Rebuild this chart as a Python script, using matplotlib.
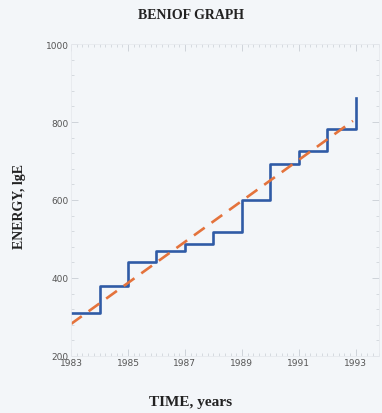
import matplotlib.pyplot as plt
import numpy as np
from matplotlib.ticker import MultipleLocator

# cumulative Benioff strain, one step per year
years = [1983, 1984, 1985, 1986, 1987, 1988, 1989, 1990, 1991, 1992, 1993]
energy = [310, 380, 440, 470, 488, 518, 600, 692, 726, 781, 862]

# linear trend
fit_years = [1983, 1992.9]
fit_energy = [282, 803]

bg = '#f3f6f9'
tick_col = '#c9ced4'

fig = plt.figure(figsize=(3.82, 4.14), dpi=100, facecolor=bg)
ax = fig.add_axes([0.186, 0.138, 0.805, 0.753], facecolor=bg)

ax.plot(years, energy, drawstyle='steps-post', color='#2f5ba6', linewidth=1.9)
ax.plot(fit_years, fit_energy, '--', color='#e4733c', linewidth=1.9, dashes=(5, 3.2))

ax.set_xlim(1983, 1993.8)
ax.set_ylim(200, 1000)
ax.set_xticks(np.arange(1983, 1994, 2))
ax.set_yticks([200, 400, 600, 800, 1000])
ax.xaxis.set_minor_locator(MultipleLocator(0.2))
ax.yaxis.set_minor_locator(MultipleLocator(40))

for s in ax.spines.values():
    s.set_color('#e6e9ee')
    s.set_linewidth(0.6)

ax.tick_params(which='both', direction='in', top=True, right=True, color=tick_col,
               labelsize=6.5, labelcolor='#555555', pad=1.5)
ax.tick_params(which='major', length=5, width=0.6)
ax.tick_params(which='minor', length=2.5, width=0.5)

serif = {'family': 'Liberation Serif', 'weight': 'bold'}
fig.text(0.5, 0.962, 'BENIOF GRAPH', ha='center', va='center', fontsize=10, color='#222222', **serif)
fig.text(0.5, 0.028, 'TIME, years', ha='center', va='center', fontsize=11, color='#222222', **serif)
fig.text(0.052, 0.5, 'ENERGY, lgE', ha='center', va='center', rotation=90, fontsize=10,
         color='#222222', **serif)

fig.savefig('out.png', dpi=100, facecolor=bg)
